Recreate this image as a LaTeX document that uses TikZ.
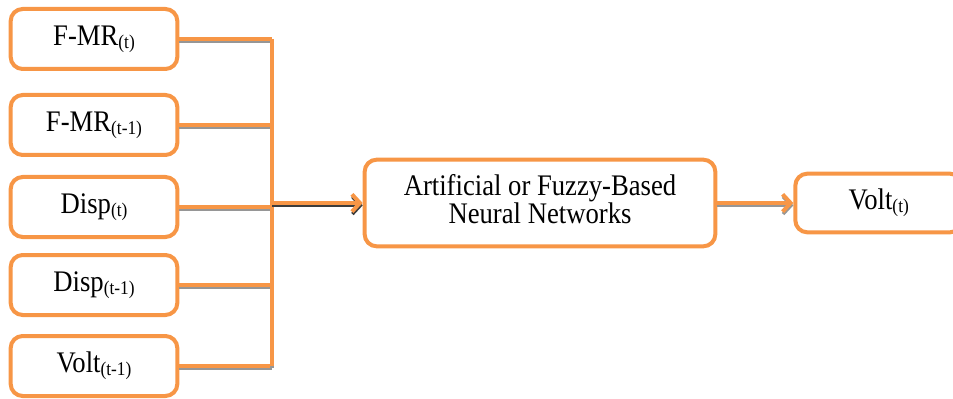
\documentclass[tikz,border=0pt]{standalone}
\usepackage{fontspec}
\setmainfont{Liberation Serif}
\usepackage{tikz}
\usetikzlibrary{positioning,arrows.meta}

\definecolor{boxorange}{RGB}{247,150,70}
\definecolor{shadegray}{RGB}{150,150,150}
\definecolor{shadedark}{RGB}{60,60,60}
\newcommand{\lowsub}[1]{\raisebox{-1.8pt}{\fontsize{13}{14}\selectfont #1}}
\newcommand{\tall}[1]{\scalebox{1}[1.12]{#1}}

\begin{document}
\begin{tikzpicture}[x=0.75pt,y=-0.75pt,
  box/.style={draw=boxorange, line width=3pt, rounded corners=9pt, fill=white,
    minimum width=125pt, minimum height=45pt, inner sep=0pt,
    font=\fontsize{20}{16}\selectfont},
  link/.style={draw=boxorange, line width=3pt,
    preaction={draw=shadegray, line width=2.5pt, transform canvas={yshift=-1.8pt}}},
  darklink/.style={draw=boxorange, line width=3pt,
    preaction={draw=shadedark, line width=2.5pt, transform canvas={yshift=-1.8pt}}},
  node distance=57pt]
\path[use as bounding box, clip] (0,0) rectangle (953,399);
\node[box] (fmr_t) at (94,39) {\tall{F-MR\lowsub{(t)}}};
\node[box] (fmr_t1) at (94,125) {\tall{F-MR\lowsub{(t-1)}}};
\node[box] (disp_t) at (94,207) {\tall{Disp\lowsub{(t)}}};
\node[box] (disp_t1) at (94,285) {\tall{Disp\lowsub{(t-1)}}};
\node[box] (volt_t1) at (94,366) {\tall{Volt\lowsub{(t-1)}}};
\node[box, minimum width=263pt, minimum height=65pt] (nn) at (540,203)
  {\tall{\begin{tabular}{@{}c@{}}Artificial or Fuzzy-Based\\Neural Networks\end{tabular}}};
\node[box, minimum height=44pt, right=of nn] (volt_t) {\tall{Volt\lowsub{(t)}}};
\coordinate (bus) at (272,203);
\draw[link] (fmr_t.east) -- (fmr_t.east -| bus);
\draw[link] (fmr_t1.east) -- (fmr_t1.east -| bus);
\draw[link] (disp_t.east) -- (disp_t.east -| bus);
\draw[link] (disp_t1.east) -- (disp_t1.east -| bus);
\draw[link] (volt_t1.east) -- (volt_t1.east -| bus);
\draw[link] (fmr_t.east -| bus) -- (volt_t1.east -| bus);
\draw[darklink, -{Straight Barb[length=6pt,width=13pt]}] (bus) -- (nn.west);
\draw[link, -{Straight Barb[length=6pt,width=13pt]}] (nn) -- (volt_t);
\end{tikzpicture}
\end{document}
